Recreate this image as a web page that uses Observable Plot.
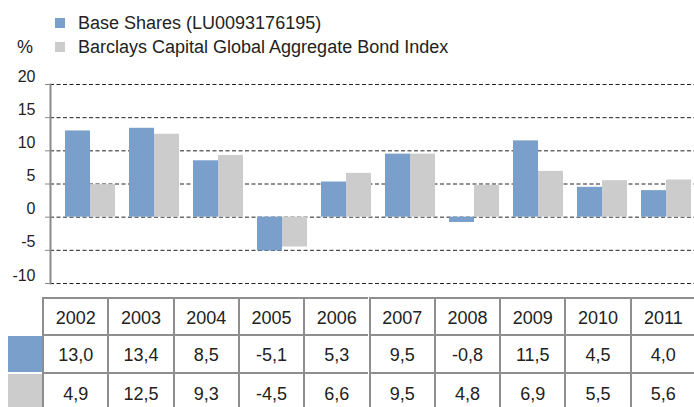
<!DOCTYPE html>
<html>
<head>
<meta charset="utf-8">
<script src="https://cdn.jsdelivr.net/npm/d3@7"></script>
<script src="https://cdn.jsdelivr.net/npm/@observablehq/plot@0.6"></script>
<style>
  html, body { margin: 0; padding: 0; background: #fff; }
  body { width: 694px; height: 407px; position: relative; overflow: hidden; font-family: "Liberation Sans", Arial, sans-serif; color: #222; }
  #chart { position: absolute; left: 0; top: 0; }
  .lg { position: absolute; font-size: 18px; line-height: 18px; white-space: nowrap; color: #222; }
  .sw { position: absolute; width: 10px; height: 10px; }
  .cell { position: absolute; box-sizing: border-box; border-left: 2px solid #8e8e8e; border-top: 2px solid #8e8e8e; font-size: 18px; display: flex; align-items: center; justify-content: center; color: #222; }
  .swc { position: absolute; box-sizing: border-box; }
</style>
</head>
<body>
<div id="chart"></div>
<script>
// ---- data ----
const years = ["2002", "2003", "2004", "2005", "2006", "2007", "2008", "2009", "2010", "2011"];
const baseShares = [13.0, 13.4, 8.5, -5.1, 5.3, 9.5, -0.8, 11.5, 4.5, 4.0];
const barclaysIndex = [4.9, 12.5, 9.3, -4.5, 6.6, 9.5, 4.8, 6.9, 5.5, 5.6];
const seriesNames = ["Base Shares (LU0093176195)", "Barclays Capital Global Aggregate Bond Index"];
const seriesColors = ["#7A9FCA", "#CCCCCC"];
const yTicks = [-10, -5, 0, 5, 10, 15, 20];
const yUnit = "%";

const data = years.map((year, i) => ({year, base: baseShares[i], barclays: barclaysIndex[i]}));
const locale = d3.formatLocale({decimal: ",", thousands: ".", grouping: [3], currency: ["", ""], minus: "-"});
const fmt = locale.format(".1f");

// ---- chart ----
const marks = [
  Plot.ruleY(yTicks, {stroke: "#222", strokeWidth: 1, strokeDasharray: "4,2.5"}),
  Plot.barY(data, {x: "year", y: "base", fill: seriesColors[0], insetRight: 25}),
  Plot.barY(data, {x: "year", y: "barclays", fill: seriesColors[1], insetLeft: 25}),
  Plot.frame({anchor: "left", stroke: "#8a8a8a", strokeWidth: 2}),
  Plot.axisY({ticks: yTicks, tickSize: 5, tickFormat: () => "", label: null, stroke: "#8a8a8a"}),
  Plot.axisY({ticks: yTicks, tickSize: 0, tickPadding: 15, dy: -8, tickFormat: d => String(d), label: null, fill: "#222"})
];

const chart = Plot.plot({
  width: 694,
  height: 290,
  marginLeft: 50,
  marginRight: 0,
  marginTop: 84,
  marginBottom: 7,
  style: {fontFamily: "Liberation Sans, Arial, sans-serif", fontSize: "16px", color: "#222", background: "transparent"},
  x: {domain: years, paddingInner: 0.2227, paddingOuter: 0.117, align: 0.8, axis: null},
  y: {domain: [-10, 20]},
  marks
});
document.getElementById("chart").appendChild(chart);

// ---- legend ----
const body = d3.select("body");
seriesNames.forEach((name, i) => {
  body.append("div").attr("class", "sw")
    .style("left", "55px").style("top", (18 + i * 24) + "px")
    .style("background", seriesColors[i]);
  body.append("div").attr("class", "lg")
    .style("left", "78px").style("top", (14 + i * 24) + "px")
    .text(name);
});
body.append("div").attr("class", "lg").style("left", "17px").style("top", "38px").text(yUnit);

// ---- data table ----
const colLeft = 42, colW = 65.3;
const rowTop = [297, 334, 372], rowH = [37, 38, 40];
const rows = [years, baseShares.map(fmt), barclaysIndex.map(fmt)];
rows.forEach((row, r) => {
  row.forEach((txt, c) => {
    const isLast = c === row.length - 1;
    body.append("div").attr("class", "cell")
      .style("left", (colLeft + c * colW) + "px")
      .style("top", rowTop[r] + "px")
      .style("width", (colW + (isLast ? 2 : 0)) + "px")
      .style("height", rowH[r] + "px")
      .style("border-right", isLast ? "2px solid #8e8e8e" : null)
      .style("padding-top", "3px")
      .text(txt);
  });
  if (r > 0) {
    body.append("div").attr("class", "swc")
      .style("left", "8px").style("top", (rowTop[r] + 2) + "px")
      .style("width", (colLeft - 8) + "px").style("height", (rowH[r] - 2) + "px")
      .style("background", seriesColors[r - 1]);
  }
});
</script>
</body>
</html>
